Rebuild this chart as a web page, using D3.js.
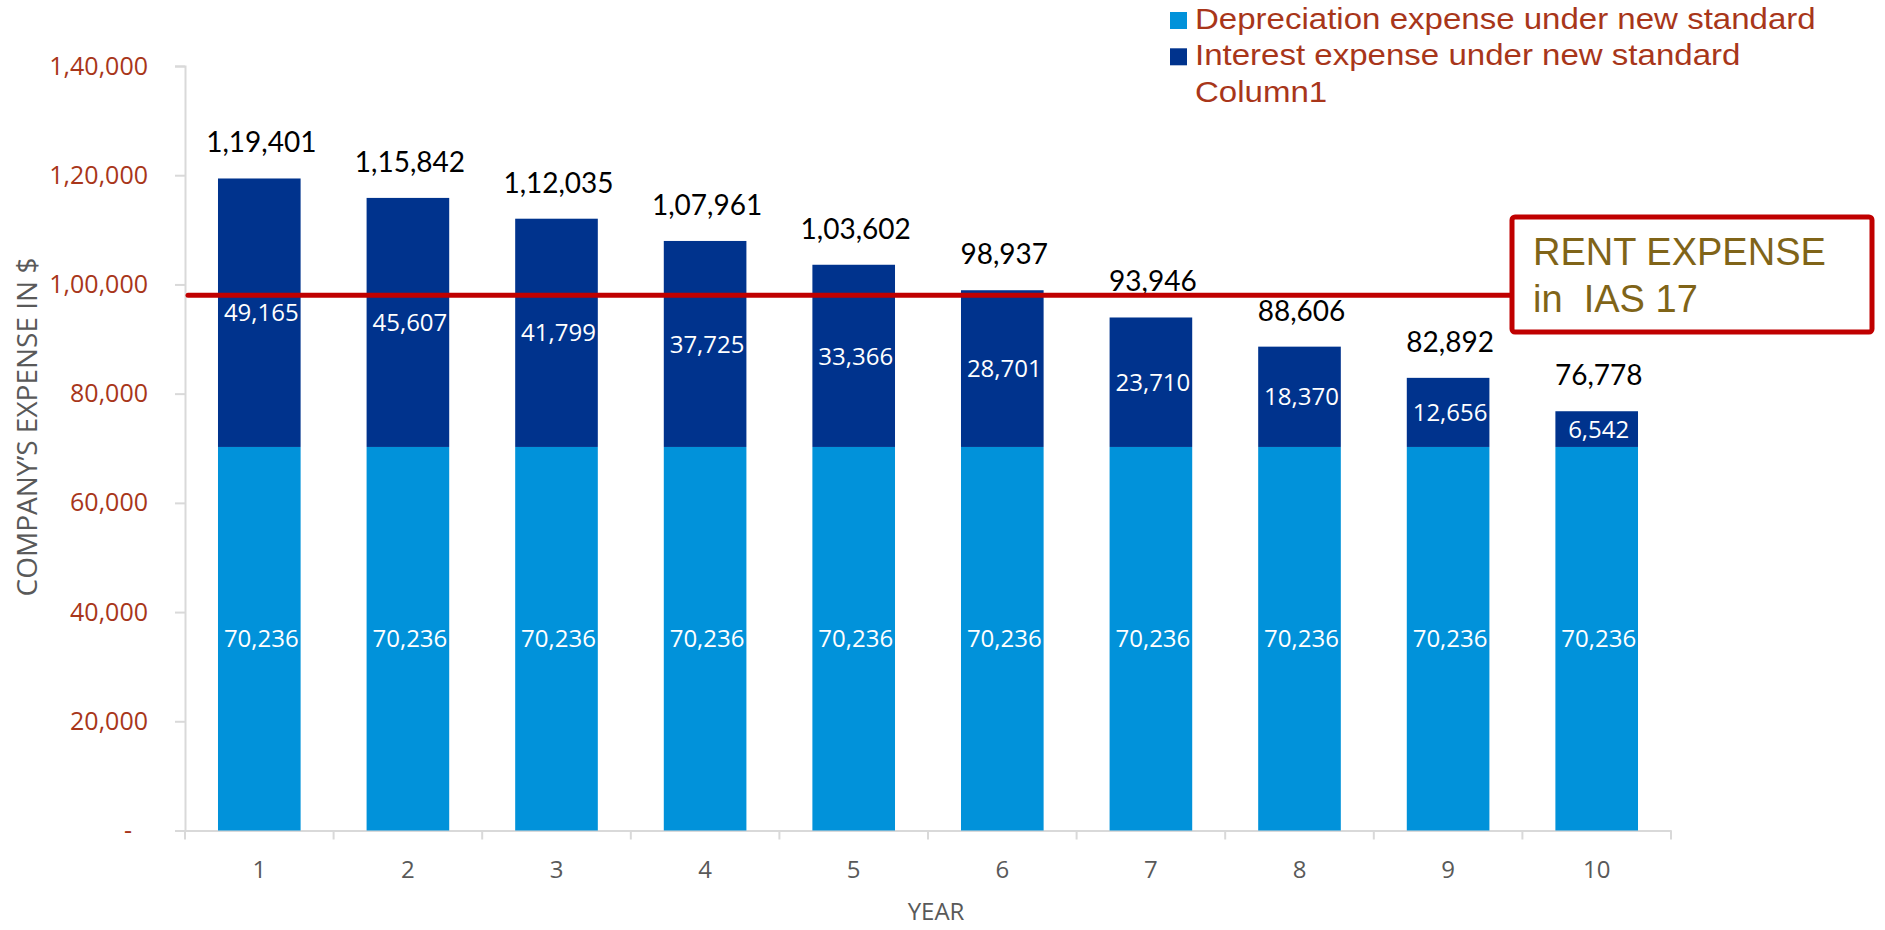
<!DOCTYPE html>
<html>
<head>
<meta charset="utf-8">
<script src="https://cdn.jsdelivr.net/npm/d3@7"></script>
<style>
	body { margin: 0; background: #fff; }
	text { font-family: "Open Sans", sans-serif; }
</style>
</head>
<body>
<div id="chart"></div>
<script>
// Chart data
var years = ["1", "2", "3", "4", "5", "6", "7", "8", "9", "10"];
var depreciation = [70236, 70236, 70236, 70236, 70236, 70236, 70236, 70236, 70236, 70236];
var interest = [49165, 45607, 41799, 37725, 33366, 28701, 23710, 18370, 12656, 6542];
var totals = [119401, 115842, 112035, 107961, 103602, 98937, 93946, 88606, 82892, 76778];
var yTicks = [0, 20000, 40000, 60000, 80000, 100000, 120000, 140000];
var rentExpense = 98000;
var legendLabels = ["Depreciation expense under new standard", "Interest expense under new standard", "Column1"];

var width = 1885,
	height = 930;

var plot = {
	left: 185,
	right: 1671,
	top: 66,
	bottom: 830.5
};

var colDep = "#0192da",
	colInt = "#00338d",
	colRed = "#c00000",
	colAxisText = "#a8361a",
	colGrey = "#595959";

// Indian style grouping: 1,19,401
function indian(v) {
	var s = String(Math.round(v));
	if (s.length <= 3) return s;
	var last = s.slice(-3),
		rest = s.slice(0, -3);
	rest = rest.replace(/\B(?=(\d{2})+(?!\d))/g, ",");
	return rest + "," + last;
}

var svg = d3.select("#chart").append("svg")
	.attr("width", width)
	.attr("height", height);

var x = d3.scaleBand()
	.domain(years)
	.range([plot.left, plot.right])
	.paddingInner(0.444)
	.paddingOuter(0.222);

var y = d3.scaleLinear()
	.domain([0, 140000])
	.range([plot.bottom, plot.top]);

var rows = years.map(function(d, i) {
	return { year: d, dep: depreciation[i], int: interest[i], total: totals[i] };
});

// Y axis
var yAxis = svg.append("g")
	.attr("transform", "translate(" + plot.left + ",0)")
	.call(d3.axisLeft(y).tickValues(yTicks).tickSize(10).tickPadding(27)
		.tickFormat(function(d) { return d === 0 ? "-" : indian(d); }));
yAxis.select(".domain").attr("stroke", "#d9d9d9").attr("stroke-width", 2);
yAxis.selectAll(".tick line").attr("stroke", "#d9d9d9").attr("stroke-width", 2);
yAxis.selectAll(".tick text")
	.attr("fill", colAxisText)
	.style("font-size", "25px")
	.attr("dx", function(d) { return d === 0 ? "-16px" : 0; });

// X axis (ticks between categories)
var xAxis = svg.append("g")
	.attr("transform", "translate(0," + plot.bottom + ")")
	.call(d3.axisBottom(x).tickSize(0).tickPadding(30));
xAxis.select(".domain").attr("stroke", "#d9d9d9").attr("stroke-width", 2);
xAxis.selectAll(".tick text")
	.attr("fill", colGrey)
	.style("font-size", "24px");

var bounds = years.map(function(d) { return x(d) - x.step() * x.paddingInner() / 2; });
bounds.push(plot.right);
svg.append("g").selectAll("line.xtick")
	.data(bounds)
	.enter()
	.append("line")
	.attr("x1", function(d) { return d; })
	.attr("x2", function(d) { return d; })
	.attr("y1", plot.bottom)
	.attr("y2", plot.bottom + 9)
	.attr("stroke", "#d9d9d9")
	.attr("stroke-width", 2);

// Bars
var bars = svg.append("g");

bars.selectAll("rect.dep")
	.data(rows)
	.enter()
	.append("rect")
	.attr("class", "dep")
	.attr("x", function(d) { return x(d.year); })
	.attr("width", x.bandwidth())
	.attr("y", function(d) { return y(d.dep); })
	.attr("height", function(d) { return y(0) - y(d.dep); })
	.attr("fill", colDep);

bars.selectAll("rect.int")
	.data(rows)
	.enter()
	.append("rect")
	.attr("class", "int")
	.attr("x", function(d) { return x(d.year); })
	.attr("width", x.bandwidth())
	.attr("y", function(d) { return y(d.dep + d.int); })
	.attr("height", function(d) { return y(d.dep) - y(d.dep + d.int); })
	.attr("fill", colInt);

// Rent expense line
svg.append("line")
	.attr("x1", plot.left + 3)
	.attr("x2", 1512)
	.attr("y1", y(rentExpense))
	.attr("y2", y(rentExpense))
	.attr("stroke", colRed)
	.attr("stroke-width", 5)
	.attr("stroke-linecap", "round");

// Labels
bars.selectAll("text.dep")
	.data(rows)
	.enter()
	.append("text")
	.attr("x", function(d) { return x(d.year) + x.bandwidth() / 2 + 2; })
	.attr("y", function(d) { return (y(0) + y(d.dep)) / 2; })
	.attr("dy", "0.36em")
	.attr("text-anchor", "middle")
	.attr("fill", "#fff")
	.style("font-size", "24px")
	.text(function(d) { return indian(d.dep); });

bars.selectAll("text.int")
	.data(rows)
	.enter()
	.append("text")
	.attr("x", function(d) { return x(d.year) + x.bandwidth() / 2 + 2; })
	.attr("y", function(d) { return (y(d.dep) + y(d.dep + d.int)) / 2; })
	.attr("dy", "0.36em")
	.attr("text-anchor", "middle")
	.attr("fill", "#fff")
	.style("font-size", "24px")
	.text(function(d) { return indian(d.int); });

bars.selectAll("text.total")
	.data(rows)
	.enter()
	.append("text")
	.attr("x", function(d) { return x(d.year) + x.bandwidth() / 2 + 2; })
	.attr("y", function(d) { return y(d.total) - 26; })
	.attr("text-anchor", "middle")
	.attr("fill", "#000")
	.style("font-family", "Lato, sans-serif")
	.style("font-size", "28px")
	.text(function(d) { return indian(d.total); });

// Rent box
svg.append("rect")
	.attr("x", 1512)
	.attr("y", 217)
	.attr("width", 360)
	.attr("height", 115)
	.attr("rx", 3)
	.attr("fill", "#fff")
	.attr("stroke", colRed)
	.attr("stroke-width", 5);

var boxText = svg.append("text")
	.attr("fill", "#806418")
	.style("font-family", "'Liberation Sans', Arial, sans-serif")
	.style("font-size", "38px")
	.style("white-space", "pre");
boxText.append("tspan").attr("x", 1533).attr("y", 265).text("RENT EXPENSE");
boxText.append("tspan").attr("x", 1533).attr("y", 312).text("in  IAS 17");

// Axis titles
svg.append("text")
	.attr("x", (plot.left + plot.right) / 2 + 8)
	.attr("y", 920)
	.attr("text-anchor", "middle")
	.attr("fill", colGrey)
	.style("font-size", "24px")
	.text("YEAR");

svg.append("text")
	.attr("transform", "translate(37,427) rotate(-90)")
	.attr("text-anchor", "middle")
	.attr("fill", colGrey)
	.style("font-size", "28px")
	.text("COMPANY\u2019S EXPENSE IN $");

// Legend
var legend = svg.append("g")
	.attr("transform", "translate(1170,0)");

legend.selectAll("rect")
	.data([colDep, colInt])
	.enter()
	.append("rect")
	.attr("x", 0)
	.attr("y", function(d, i) { return 12 + i * 36.3; })
	.attr("width", 17)
	.attr("height", 17)
	.attr("fill", function(d) { return d; });

legend.selectAll("text")
	.data(legendLabels)
	.enter()
	.append("text")
	.attr("transform", function(d, i) { return "translate(25," + (29 + i * 36.3) + ") scale(1.12,1)"; })
	.attr("fill", colAxisText)
	.style("font-family", "'Liberation Sans', Arial, sans-serif")
	.style("font-size", "29.5px")
	.text(function(d) { return d; });
</script>
</body>
</html>
